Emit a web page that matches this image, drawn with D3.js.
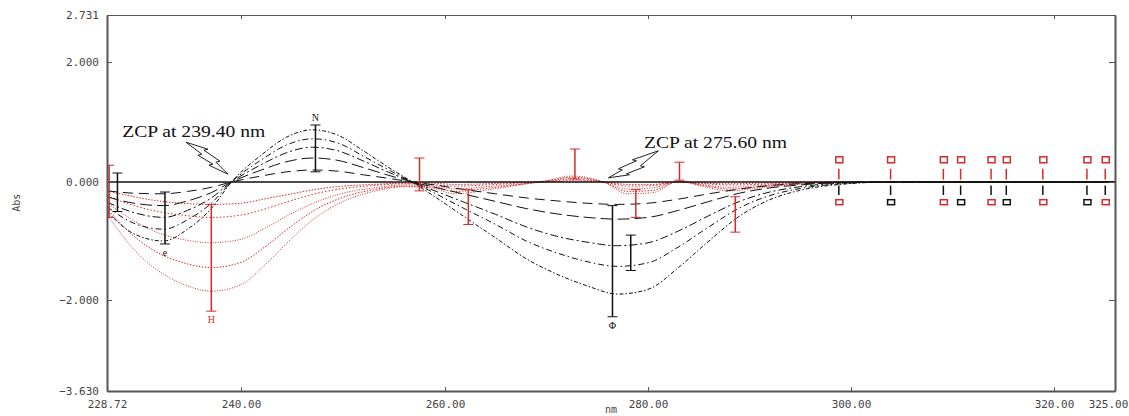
<!DOCTYPE html>
<html>
<head>
<meta charset="utf-8">
<script src="https://cdn.jsdelivr.net/npm/d3@7"></script>
<style>
  body { margin: 0; background: #fff; }
  .tick text { font-family: "DejaVu Sans Mono", monospace; font-size: 11px; fill: #444; }
  .axis path, .axis line { stroke: #555; }
</style>
</head>
<body>
<div id="graph"></div>
<script>
// wavelength grid for the black family (nm)
var wlBlack = [228.72, 231, 233.5, 235.5, 237.5, 239.2, 242, 244.5, 247, 249.5, 252, 254.5, 256.8, 259, 262,
               265, 268, 271, 274, 277, 280, 283, 286, 289, 292, 295, 299, 304, 310, 325];
var black1 = [-0.15, -0.19, -0.2, -0.16, -0.09, 0, 0.1, 0.17, 0.2, 0.18, 0.12, 0.06, 0, -0.05, -0.13,
              -0.2, -0.27, -0.32, -0.36, -0.38, -0.36, -0.29, -0.2, -0.12, -0.06, -0.03, -0.01, 0, 0, 0];
var black2 = [-0.25, -0.36, -0.4, -0.32, -0.18, 0, 0.2, 0.34, 0.4, 0.36, 0.24, 0.11, 0, -0.09, -0.21,
              -0.33, -0.45, -0.54, -0.6, -0.63, -0.6, -0.48, -0.33, -0.19, -0.1, -0.05, -0.01, 0, 0, 0];
var black3 = [-0.34, -0.52, -0.6, -0.48, -0.27, 0, 0.29, 0.49, 0.58, 0.52, 0.35, 0.16, 0, -0.15, -0.35,
              -0.55, -0.76, -0.92, -1.02, -1.08, -1.03, -0.83, -0.57, -0.33, -0.17, -0.08, -0.02, 0, 0, 0];
var black4 = [-0.42, -0.7, -0.8, -0.64, -0.36, 0, 0.37, 0.62, 0.72, 0.65, 0.43, 0.2, 0, -0.19, -0.46,
              -0.72, -1.0, -1.2, -1.35, -1.43, -1.37, -1.1, -0.76, -0.44, -0.23, -0.11, -0.03, 0, 0, 0];
var black5 = [-0.5, -0.88, -1.0, -0.8, -0.45, 0, 0.45, 0.75, 0.87, 0.78, 0.52, 0.24, 0, -0.25, -0.6,
              -0.95, -1.3, -1.56, -1.76, -1.9, -1.82, -1.45, -1.0, -0.58, -0.3, -0.14, -0.04, 0, 0, 0];

// wavelength grid for the red family (nm)
var wlRed = [228.72, 231, 233, 235, 237.5, 240, 242.5, 245, 247.5, 250, 253, 256, 258.5, 261, 264,
             267, 270, 272.5, 275.6, 278, 280.5, 283, 285.5, 288, 291, 295, 300, 310, 325];
var red1 = [-0.15, -0.25, -0.32, -0.36, -0.38, -0.36, -0.28, -0.2, -0.12, -0.07, -0.04, -0.02, -0.02, -0.04, -0.03,
            -0.01, 0, 0.02, 0, -0.04, -0.04, 0, -0.02, -0.03, -0.02, -0.01, 0, 0, 0];
var red2 = [-0.24, -0.4, -0.5, -0.56, -0.6, -0.56, -0.45, -0.31, -0.19, -0.11, -0.06, -0.03, -0.04, -0.07, -0.05,
            -0.02, 0.01, 0.04, 0, -0.07, -0.06, 0, -0.03, -0.05, -0.04, -0.01, 0, 0, 0];
var red3 = [-0.35, -0.66, -0.86, -0.97, -1.03, -0.97, -0.77, -0.53, -0.33, -0.19, -0.1, -0.05, -0.06, -0.12, -0.08,
            -0.04, 0.01, 0.06, 0, -0.12, -0.1, 0.01, -0.05, -0.09, -0.06, -0.02, 0, 0, 0];
var red4 = [-0.45, -0.92, -1.2, -1.36, -1.45, -1.36, -1.08, -0.74, -0.45, -0.26, -0.13, -0.07, -0.08, -0.16, -0.11,
            -0.05, 0.02, 0.08, 0, -0.16, -0.14, 0.01, -0.06, -0.12, -0.08, -0.02, 0, 0, 0];
var red5 = [-0.55, -1.15, -1.5, -1.72, -1.85, -1.74, -1.38, -0.95, -0.58, -0.33, -0.16, -0.08, -0.1, -0.2, -0.14,
            -0.06, 0.02, 0.1, 0, -0.2, -0.18, 0.01, -0.08, -0.15, -0.1, -0.03, 0, 0, 0];

// peak-pick marker columns
var markNm    = [228.9, 229.6, 233.6, 237.5, 247.3, 257.5, 262.3, 272.8, 276.5, 278.3, 278.8, 283.1, 288.6];
var markTop   = [0.28, 0.15, -0.17, -0.38, 0.95, 0.4, -0.13, 0.55, -0.4, -0.9, -0.13, 0.33, -0.25];
var markBot   = [-0.6, -0.5, -1.05, -2.2, 0.17, -0.15, -0.72, 0.05, -2.3, -1.5, -0.6, 0.03, -0.85];
var markColor = ["red", "black", "black", "red", "black", "red", "red", "red", "black", "black", "red", "red", "red"];
var markGlyph = ["", "", "e", "H", "N", "", "", "", "\u03A6", "", "", "", ""];

// small markers along the flat tail
var tailNm  = [298.8, 303.9, 309.1, 310.8, 313.8, 315.3, 318.9, 322.7, 324.2];

// tick labels
var xTicks = [228.72, 240, 260, 280, 300, 320, 325];
var yTicks = [2.731, 2, 0, -2, -3.63];

var W = 1129, H = 416;

var x = d3.scaleLinear()
    .domain([228.72, 240, 260, 280, 300, 320, 325])
    .range([107, 241, 445, 648, 851, 1054, 1115]);
var y = d3.scaleLinear()
    .domain([-3.63, -2, 0, 2, 2.731])
    .range([391, 300, 182, 62, 15]);

var svg = d3.select("#graph").append("svg")
    .attr("width", W)
    .attr("height", H);

svg.append("defs").append("clipPath").attr("id", "clip")
    .append("rect")
    .attr("x", x(228.72)).attr("y", y(2.731))
    .attr("width", x(325) - x(228.72)).attr("height", y(-3.63) - y(2.731));

var plot = svg.append("g").attr("clip-path", "url(#clip)");

var line = d3.line()
    .x(function(d) { return x(d[0]); })
    .y(function(d) { return y(d[1]); })
    .curve(d3.curveMonotoneX);

// red family, dotted
var redSeries = [red1, red2, red3, red4, red5];
var redDash = ["1.5,1.5", "1.5,2", "1,1.5", "1.5,1.5", "1,1.5"];
redSeries.forEach(function(s, i) {
    plot.append("path")
        .datum(s.map(function(v, j) { return [wlRed[j], v]; }))
        .attr("fill", "none")
        .attr("stroke", "#d42a2a")
        .attr("stroke-width", 1)
        .attr("stroke-dasharray", redDash[i])
        .attr("d", line);
});

// black family, mixed dash styles
var blackSeries = [black1, black2, black3, black4, black5];
var blackDash = ["10,6", "12,5", "8,3,2,3", "6,3,1.5,3", "4,2,1.5,2"];
blackSeries.forEach(function(s, i) {
    plot.append("path")
        .datum(s.map(function(v, j) { return [wlBlack[j], v]; }))
        .attr("fill", "none")
        .attr("stroke", "#111")
        .attr("stroke-width", 1)
        .attr("stroke-dasharray", blackDash[i])
        .attr("d", line);
});

// zero line
plot.append("line")
    .attr("x1", x(228.72)).attr("x2", x(325))
    .attr("y1", y(0)).attr("y2", y(0))
    .attr("stroke", "#111").attr("stroke-width", 1.5);

// marker columns
var cols = plot.append("g");
markNm.forEach(function(nm, i) {
    var c = markColor[i] == "red" ? "#d42a2a" : "#111";
    var g = cols.append("g");
    g.append("line")
        .attr("x1", x(nm)).attr("x2", x(nm))
        .attr("y1", y(markTop[i])).attr("y2", y(markBot[i]))
        .attr("stroke", c).attr("stroke-width", 1.5);
    [markTop[i], markBot[i]].forEach(function(v) {
        g.append("line")
            .attr("x1", x(nm) - 5).attr("x2", x(nm) + 5)
            .attr("y1", y(v)).attr("y2", y(v))
            .attr("stroke", c).attr("stroke-width", 1);
    });
    if (markGlyph[i]) {
        var far = Math.abs(markTop[i]) > Math.abs(markBot[i]) ? markTop[i] : markBot[i];
        g.append("text")
            .attr("x", x(nm))
            .attr("y", y(far) + (far > 0 ? -4 : 12))
            .attr("text-anchor", "middle")
            .style("font-family", "Liberation Serif")
            .style("font-size", "10px")
            .attr("fill", c)
            .text(markGlyph[i]);
    }
});

// tail markers: red glyph above, black ticks below
tailNm.forEach(function(nm, i) {
    var g = cols.append("g");
    g.append("rect")
        .attr("x", x(nm) - 3).attr("y", y(0.42))
        .attr("width", 7).attr("height", 6)
        .attr("fill", "none").attr("stroke", "#d42a2a").attr("stroke-width", 1.5);
    g.append("line")
        .attr("x1", x(nm)).attr("x2", x(nm))
        .attr("y1", y(0.22)).attr("y2", y(0.04))
        .attr("stroke", "#d42a2a").attr("stroke-width", 1.5);
    g.append("line")
        .attr("x1", x(nm)).attr("x2", x(nm))
        .attr("y1", y(-0.06)).attr("y2", y(-0.22))
        .attr("stroke", "#111").attr("stroke-width", 1.5);
    g.append("rect")
        .attr("x", x(nm) - 3).attr("y", y(-0.3))
        .attr("width", 7).attr("height", 5)
        .attr("fill", "none").attr("stroke", i % 2 ? "#111" : "#d42a2a").attr("stroke-width", 1.5);
});

// axes
var xAxisG = svg.append("g").attr("class", "axis")
    .attr("transform", "translate(0," + y(-3.63) + ")")
    .call(d3.axisBottom(x).tickValues(xTicks).tickFormat(d3.format(".2f"))
        .tickSizeInner(-4).tickSizeOuter(0).tickPadding(9));
xAxisG.select(".domain").attr("stroke-width", 2);
// last label would run off the page edge
xAxisG.selectAll(".tick text").filter(function(d) { return d == 325; }).attr("dx", -7);

svg.append("g").attr("class", "axis")
    .attr("transform", "translate(0," + y(2.731) + ")")
    .call(d3.axisTop(x).tickValues(xTicks).tickFormat("")
        .tickSizeInner(-4).tickSizeOuter(0))
    .select(".domain").attr("stroke", "none");
svg.append("g").attr("class", "axis")
    .attr("transform", "translate(" + x(228.72) + ",0)")
    .call(d3.axisLeft(y).tickValues(yTicks).tickFormat(d3.format(".3f"))
        .tickSizeInner(-5).tickSizeOuter(0).tickPadding(8))
    .select(".domain").attr("stroke-width", 2);
svg.append("g").attr("class", "axis")
    .attr("transform", "translate(" + x(325) + ",0)")
    .call(d3.axisRight(y).tickValues(yTicks).tickFormat("")
        .tickSizeInner(-6).tickSizeOuter(0))
    .select(".domain").attr("stroke-width", 2);

svg.append("text")
    .attr("transform", "translate(20," + y(-0.35) + ") rotate(-90)")
    .attr("text-anchor", "middle")
    .style("font-family", "DejaVu Sans Mono")
    .style("font-size", "10px")
    .attr("fill", "#444")
    .text("Abs");

svg.append("text")
    .attr("x", (x(228.72) + x(325)) / 2)
    .attr("y", H - 3)
    .attr("text-anchor", "middle")
    .style("font-family", "DejaVu Sans Mono")
    .style("font-size", "10px")
    .attr("fill", "#444")
    .text("nm");

// ZCP annotations with lightning arrows
var zcpText = ["ZCP at 239.40 nm", "ZCP at 275.60 nm"];
var zcpAt = [[230.0, 0.75], [279.6, 0.57]];
zcpText.forEach(function(t, i) {
    svg.append("text")
        .attr("x", x(zcpAt[i][0]))
        .attr("y", y(zcpAt[i][1]))
        .attr("textLength", 143)
        .attr("lengthAdjust", "spacingAndGlyphs")
        .style("font-family", "Liberation Serif")
        .style("font-size", "17px")
        .attr("fill", "#111")
        .text(t);
});

var bolt1 = [[0, 0], [-12, -12], [-8, -13], [-24, -24], [-20, -25], [-42, -32],
             [-26, -20], [-30, -19], [-15, -10], [-19, -9]];
var bolt2 = [[0, 0], [14, -8], [10, -9], [28, -17], [24, -18], [50, -27],
             [32, -12], [36, -11], [18, -4], [21, -3]];
var boltTip = [[238.9, 0.13], [276.1, 0.07]];
[bolt1, bolt2].forEach(function(b, i) {
    var tx = x(boltTip[i][0]), ty = y(boltTip[i][1]);
    svg.append("path")
        .attr("d", d3.line()(b.map(function(p) { return [tx + p[0], ty + p[1]]; })) + "Z")
        .attr("fill", "#fff")
        .attr("stroke", "#222")
        .attr("stroke-width", 1);
});
</script>
</body>
</html>
